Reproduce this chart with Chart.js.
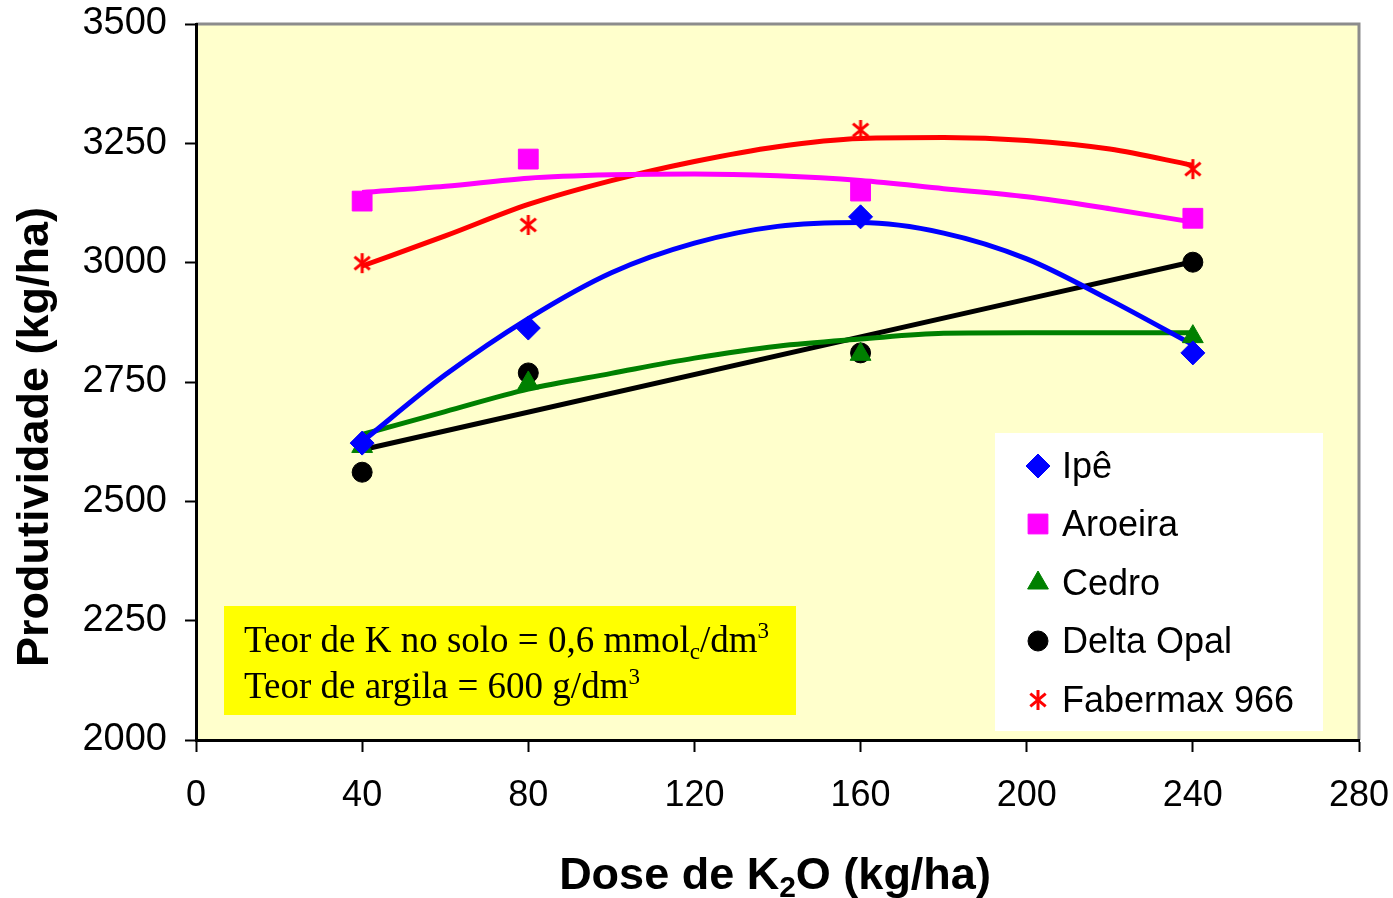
<!DOCTYPE html>
<html>
<head>
<meta charset="utf-8">
<script src="https://cdn.jsdelivr.net/npm/chart.js@4.4.1/dist/chart.umd.min.js"></script>
<style>
  html, body { margin: 0; padding: 0; background: #fff; }
</style>
</head>
<body>
<canvas id="myChart" width="1393" height="898"></canvas>
<script>
// measured points
const doses = [40, 80, 160, 240];
const ipe = [2622, 2863, 3096, 2811];
const aroeira = [3129, 3217, 3150, 3093];
const cedro = [2615, 2748, 2808, 2845];
const deltaOpal = [2561, 2769, 2811, 3001];
const fabermax = [2999, 3079, 3278, 3196];

// fitted trend lines
const trendDoses = [40, 60, 80, 100, 120, 140, 160, 180, 200, 220, 240];
const ipeTrend = [2625, 2765, 2883, 2979, 3041, 3076, 3084, 3062, 3008, 2922, 2828];
const aroeiraTrend = [3147, 3160, 3177, 3184, 3186, 3182, 3172, 3155, 3138, 3113, 3085];
const cedroTrend = [2640, 2688, 2735, 2768, 2800, 2825, 2840, 2852, 2853, 2853, 2853];
const fabermaxTrend = [2993, 3056, 3122, 3172, 3212, 3243, 3260, 3262, 3256, 3238, 3204];
const deltaTrendDoses = [40, 240];
const deltaOpalTrend = [2608, 3002];

const xTicks = [0, 40, 80, 120, 160, 200, 240, 280];
const yTicks = [2000, 2250, 2500, 2750, 3000, 3250, 3500];

const pts = (xs, ys) => xs.map((x, i) => ({ x: x, y: ys[i] }));

function asterisk(size, color) {
    const c = document.createElement('canvas');
    c.width = c.height = size;
    const g = c.getContext('2d');
    g.strokeStyle = color;
    g.lineWidth = 3;
    const m = size / 2, r = size / 2 - 1;
    [90, 40, 140].forEach(a => {
        const dx = Math.cos(a * Math.PI / 180) * r, dy = Math.sin(a * Math.PI / 180) * r;
        g.beginPath();
        g.moveTo(m - dx, m - dy);
        g.lineTo(m + dx, m + dy);
        g.stroke();
    });
    return c;
}

const series = [
    { label: 'Ipê', data: ipe, trend: ipeTrend, tx: trendDoses, color: '#0000FF', style: 'rectRot', radius: 12 },
    { label: 'Aroeira', data: aroeira, trend: aroeiraTrend, tx: trendDoses, color: '#FF00FF', style: 'rect', radius: 14 },
    { label: 'Cedro', data: cedro, trend: cedroTrend, tx: trendDoses, color: '#008000', style: 'triangle', radius: 12 },
    { label: 'Delta Opal', data: deltaOpal, trend: deltaOpalTrend, tx: deltaTrendDoses, color: '#000000', style: 'circle', radius: 10 },
    { label: 'Fabermax 966', data: fabermax, trend: fabermaxTrend, tx: trendDoses, color: '#FF0000', style: asterisk(22, '#FF0000'), radius: 11 },
];

const datasets = [];
series.forEach(s => {
    datasets.push({
        label: s.label,
        data: pts(doses, s.data),
        showLine: false,
        pointStyle: s.style,
        pointRadius: s.radius,
        pointBackgroundColor: s.color,
        pointBorderColor: s.color,
        pointBorderWidth: 1,
        order: 0,
    });
    datasets.push({
        label: s.label + ' trend',
        data: pts(s.tx, s.trend),
        showLine: true,
        borderColor: s.color,
        borderWidth: 5,
        pointRadius: 0,
        cubicInterpolationMode: 'monotone',
        order: 1,
    });
});

const plotFrame = {
    id: 'plotFrame',
    beforeDraw(chart) {
        const { ctx, chartArea: a } = chart;
        ctx.save();
        ctx.fillStyle = '#FFFFCC';
        ctx.fillRect(a.left, a.top, a.right - a.left, a.bottom - a.top);
        ctx.strokeStyle = '#8C8C8C';
        ctx.lineWidth = 3;
        ctx.beginPath();
        ctx.moveTo(a.left, a.top);
        ctx.lineTo(a.right, a.top);
        ctx.lineTo(a.right, a.bottom);
        ctx.stroke();
        ctx.restore();
    }
};

const extras = {
    id: 'extras',
    afterDatasetsDraw(chart) {
        const ctx = chart.ctx;
        ctx.save();
        // note box
        ctx.fillStyle = '#FFFF00';
        ctx.fillRect(224, 606, 572, 109);
        ctx.fillStyle = '#000';
        ctx.textBaseline = 'alphabetic';
        const big = '37px "Liberation Serif", "Times New Roman", serif';
        const small = '23px "Liberation Serif", "Times New Roman", serif';
        let x = 244;
        const put = (t, f, y) => { ctx.font = f; ctx.fillText(t, x, y); x += ctx.measureText(t).width; };
        put('Teor de K no solo = 0,6 mmol', big, 652);
        put('c', small, 659);
        put('/dm', big, 652);
        put('3', small, 638);
        x = 244;
        put('Teor de argila = 600 g/dm', big, 698);
        put('3', small, 684);

        // legend
        ctx.fillStyle = '#FFFFFF';
        ctx.fillRect(995, 433, 328, 298);
        const rows = [466, 524, 583, 641, 700];
        series.forEach((s, i) => {
            ctx.fillStyle = s.color;
            ctx.strokeStyle = s.color;
            ctx.lineWidth = 1;
            Chart.helpers.drawPoint(ctx, { pointStyle: s.style, radius: s.radius, rotation: 0, borderWidth: 1 }, 1038, rows[i]);
            ctx.fillStyle = '#000';
            ctx.font = '36px "Liberation Sans", Arial, sans-serif';
            ctx.textBaseline = 'middle';
            ctx.fillText(s.label, 1062, rows[i] + 2);
        });
        ctx.restore();
    },
    afterDraw(chart) {
        const ctx = chart.ctx;
        ctx.save();
        ctx.fillStyle = '#000';
        // y title
        ctx.translate(36, 437);
        ctx.rotate(-Math.PI / 2);
        ctx.font = 'bold 45px "Liberation Sans", Arial, sans-serif';
        ctx.textAlign = 'center';
        ctx.textBaseline = 'middle';
        ctx.fillText('Produtividade (kg/ha)', 0, 0);
        ctx.restore();

        // x title with subscript
        ctx.save();
        ctx.fillStyle = '#000';
        ctx.translate(775, 889);
        const bf = 'bold 45px "Liberation Sans", Arial, sans-serif';
        const sf = 'bold 30px "Liberation Sans", Arial, sans-serif';
        const parts = [['Dose de K', bf, 0], ['2', sf, 8], ['O (kg/ha)', bf, 0]];
        let w = 0;
        parts.forEach(p => { ctx.font = p[1]; w += ctx.measureText(p[0]).width; });
        let x = -w / 2;
        parts.forEach(p => { ctx.font = p[1]; ctx.fillText(p[0], x, p[2]); x += ctx.measureText(p[0]).width; });
        ctx.restore();
    }
};

Chart.defaults.font.family = '"Liberation Sans", Arial, sans-serif';
Chart.defaults.color = '#000';

new Chart(document.getElementById('myChart'), {
    type: 'scatter',
    data: { datasets: datasets },
    options: {
        responsive: false,
        animation: false,
        layout: { padding: { left: 0, top: 24, right: 34, bottom: 0 }, autoPadding: false },
        plugins: { legend: { display: false }, tooltip: { enabled: false } },
        scales: {
            x: {
                type: 'linear',
                min: 0,
                max: 280,
                afterBuildTicks: s => { s.ticks = xTicks.map(v => ({ value: v })); },
                afterFit: s => { s.height = 158; s.paddingLeft = 0; s.paddingRight = 0; },
                ticks: { font: { size: 36 }, color: '#000', padding: 22, maxRotation: 0, callback: v => String(v) },
                grid: { drawOnChartArea: false, drawTicks: true, tickLength: 12, tickColor: '#000', tickWidth: 2 },
                border: { color: '#000', width: 3 },
            },
            y: {
                min: 2000,
                max: 3500,
                afterBuildTicks: s => { s.ticks = yTicks.map(v => ({ value: v })); },
                afterFit: s => { s.width = 196; s.paddingTop = 0; s.paddingBottom = 0; },
                ticks: { font: { size: 38 }, color: '#000', padding: 18, callback: v => String(v) },
                grid: { drawOnChartArea: false, drawTicks: true, tickLength: 11, tickColor: '#000', tickWidth: 2 },
                border: { color: '#000', width: 3 },
            }
        }
    },
    plugins: [plotFrame, extras]
});
</script>
</body>
</html>
